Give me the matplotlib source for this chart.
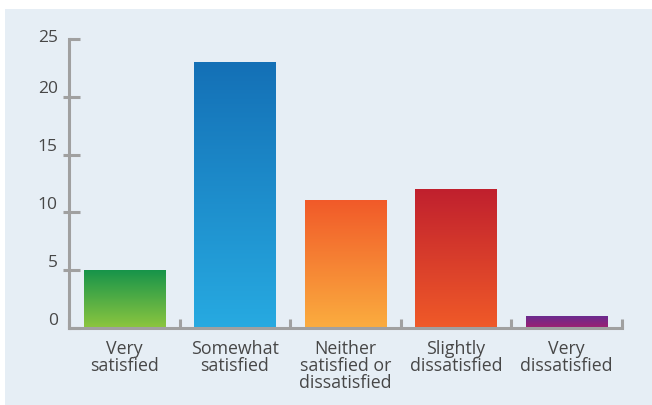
import numpy as np
import matplotlib
matplotlib.use('Agg')
import matplotlib.pyplot as plt
from matplotlib.colors import LinearSegmentedColormap
from matplotlib.transforms import ScaledTranslation
from matplotlib.patches import Rectangle

categories = ['Very\nsatisfied', 'Somewhat\nsatisfied', 'Neither\nsatisfied or\ndissatisfied',
              'Slightly\ndissatisfied', 'Very\ndissatisfied']
values = [5, 23, 11, 12, 1]
yticks = [0, 5, 10, 15, 20, 25]
# gradient colours per bar (top, bottom)
grads = [('#17944a', '#8dc63f'),
         ('#1470b6', '#27aae1'),
         ('#f15a29', '#fbad3f'),
         ('#c0202e', '#f05a28'),
         ('#6a2b8f', '#9e1f70')]

bg = '#e6eef5'
axcol = '#a0a0a0'
txtcol = '#474747'
plt.rcParams['font.family'] = ['Open Sans', 'DejaVu Sans']

fig = plt.figure(figsize=(6.52, 4.06), dpi=100)
fig.patch.set_facecolor('white')
fig.patches.append(Rectangle((5 / 652, 0), 1, 1 - 10 / 406, transform=fig.transFigure,
                             facecolor=bg, edgecolor='none', zorder=-10))

ax = fig.add_axes([69 / 652, (406 - 329) / 406, (621.5 - 69) / 652, (329 - 40) / 406])
ax.set_facecolor('none')

x = np.arange(len(values))
bars = ax.bar(x, values, width=0.735, color='none', edgecolor='none')
grad = np.linspace(0, 1, 256).reshape(-1, 1)
for b, (top, bot) in zip(bars, grads):
    cmap = LinearSegmentedColormap.from_list('g', [bot, top])
    x0, y0 = b.get_x(), b.get_y()
    ax.imshow(grad, cmap=cmap, origin='lower', aspect='auto',
              extent=[x0, x0 + b.get_width(), y0, y0 + b.get_height()], zorder=2)

ax.set_xlim(-0.5, len(values) - 0.5)
ax.set_ylim(0, 25)

for s in ['top', 'right']:
    ax.spines[s].set_visible(False)
for s in ['left', 'bottom']:
    ax.spines[s].set_color(axcol)
    ax.spines[s].set_linewidth(2.2)
    ax.spines[s].set_zorder(3)

# y axis ticks
ax.set_yticks(yticks)
ax.set_yticklabels([str(t) for t in yticks])
ax.tick_params(axis='y', which='major', direction='in', length=8, width=2.2,
               color=axcol, labelcolor=txtcol, labelsize=12.5, pad=8)
ax.yaxis.remove_overlapping_locs = False
ax.set_yticks(yticks[1:-1], minor=True)
ax.tick_params(axis='y', which='minor', direction='out', length=4, width=2.2, color=axcol)
labs = ax.get_yticklabels()
for i, lab in enumerate(labs):
    dy = 3 if i == len(labs) - 1 else 7.5
    lab.set_transform(lab.get_transform() + ScaledTranslation(0, dy / 72, fig.dpi_scale_trans))

# x axis: labels at centres, tick marks at boundaries
ax.set_xticks(x)
ax.set_xticklabels(categories, linespacing=0.93)
ax.tick_params(axis='x', which='major', length=0, labelcolor=txtcol, labelsize=12.8, pad=8)
ax.set_xticks(np.arange(len(values) + 1) - 0.5, minor=True)
ax.tick_params(axis='x', which='minor', direction='in', length=6.5, width=2.2, color=axcol)

fig.savefig('out.png', dpi=100)
